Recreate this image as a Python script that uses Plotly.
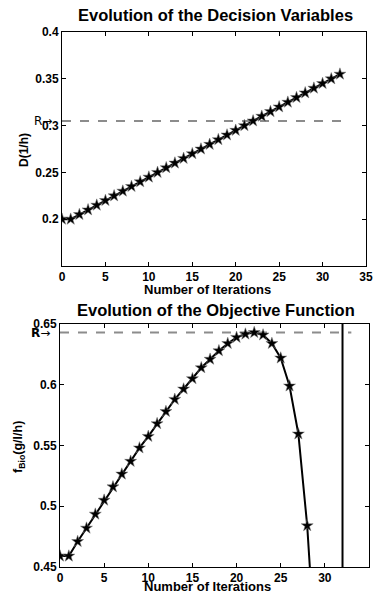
import plotly.graph_objects as go

# ---- data ----
iterations = list(range(0, 33))
D_values = [0.200, 0.200, 0.205, 0.210, 0.215, 0.220, 0.225, 0.230, 0.235, 0.240,
            0.245, 0.250, 0.255, 0.260, 0.265, 0.270, 0.275, 0.280, 0.285, 0.290,
            0.295, 0.300, 0.305, 0.310, 0.315, 0.320, 0.325, 0.330, 0.335, 0.340,
            0.345, 0.350, 0.355]
f_iterations = list(range(0, 30))
f_values = [0.459, 0.459, 0.471, 0.482, 0.4935, 0.505, 0.516, 0.5265, 0.537, 0.548,
            0.5575, 0.568, 0.578, 0.588, 0.5965, 0.605, 0.614, 0.621, 0.628, 0.634,
            0.639, 0.6417, 0.643, 0.641, 0.634, 0.622, 0.599, 0.5595, 0.484, 0.37]
R_D = 0.305
R_f = 0.643
R_x = [0, 33]
stop_iter = 32
x_ticks = [0, 5, 10, 15, 20, 25, 30, 35]
D_ticks = [0.2, 0.25, 0.3, 0.35, 0.4]
D_ticklabels = ["0.2", "0.25", "0.3", "0.35", "0.4"]
f_ticks = [0.45, 0.5, 0.55, 0.6, 0.65]
f_ticklabels = ["0.45", "0.5", "0.55", "0.6", "0.65"]

FONT = "Liberation Sans, Arial, sans-serif"
W, H = 375, 597

def px_x(p):
    return p / W

def px_y(p):
    return 1 - p / H

fig = go.Figure()

star = dict(symbol="star", size=9, color="black", line=dict(color="#777", width=0.5))

# top
fig.add_trace(go.Scatter(x=R_x, y=[R_D, R_D], mode="lines",
                         line=dict(color="#8c8c8c", width=2, dash="dash"),
                         xaxis="x", yaxis="y", showlegend=False, hoverinfo="skip"))
fig.add_trace(go.Scatter(x=iterations, y=D_values, mode="lines+markers",
                         line=dict(color="black", width=2), marker=star,
                         xaxis="x", yaxis="y", showlegend=False))
# bottom
fig.add_trace(go.Scatter(x=R_x, y=[R_f, R_f], mode="lines",
                         line=dict(color="#8c8c8c", width=2, dash="dash"),
                         xaxis="x2", yaxis="y2", showlegend=False, hoverinfo="skip"))
fig.add_trace(go.Scatter(x=[stop_iter, stop_iter], y=[f_ticks[0], f_ticks[-1]], mode="lines",
                         line=dict(color="black", width=2),
                         xaxis="x2", yaxis="y2", showlegend=False, hoverinfo="skip"))
fig.add_trace(go.Scatter(x=f_iterations, y=f_values, mode="lines+markers",
                         line=dict(color="black", width=2), marker=star,
                         xaxis="x2", yaxis="y2", showlegend=False))

axis_common = dict(showgrid=False, zeroline=False, showline=True, linecolor="black",
                   linewidth=1, mirror="ticks", ticks="inside", ticklen=4,
                   tickcolor="black", automargin=False,
                   tickfont=dict(family=FONT, size=12, color="black", weight="bold"))

fig.update_layout(
    width=W, height=H,
    margin=dict(l=0, r=0, t=0, b=0),
    paper_bgcolor="white", plot_bgcolor="white",
    xaxis=dict(domain=[px_x(62), px_x(366)], range=[0, 35], tickvals=x_ticks,
               anchor="y", **axis_common),
    yaxis=dict(domain=[px_y(266), px_y(32)], range=[0.15, 0.4], tickvals=D_ticks,
               ticktext=D_ticklabels, anchor="x", **axis_common),
    xaxis2=dict(domain=[px_x(60), px_x(369)], range=[0, 35], tickvals=x_ticks,
                anchor="y2", **axis_common),
    yaxis2=dict(domain=[px_y(567), px_y(324)], range=[0.45, 0.65], tickvals=f_ticks,
                ticktext=f_ticklabels, anchor="x2", **axis_common),
)

def ann(text, x, y, size, angle=0, xanchor="center"):
    fig.add_annotation(text=text, x=x, y=y, xref="paper", yref="paper",
                       showarrow=False, textangle=angle, xanchor=xanchor, yanchor="middle",
                       font=dict(family=FONT, size=size, color="black", weight="bold"))

ann("Evolution of the Decision Variables", px_x(215), px_y(15), 16.5)
ann("Number of Iterations", px_x(207), px_y(289), 13)
ann("D(1/h)", px_x(24), px_y(150), 12, angle=-90)
ann("Evolution of the Objective Function", px_x(216), px_y(310), 16.5)
ann("Number of Iterations", px_x(207), px_y(586), 13)
ann("f<sub>Bio</sub>(g/l/h)", px_x(19), px_y(447), 12.5, angle=-90)

# R arrows
ARROWFONT = "DejaVu Sans, sans-serif"
fig.add_annotation(text="R→", x=px_x(32), y=R_D, xref="paper", yref="y",
                   showarrow=False, xanchor="left", yanchor="middle",
                   font=dict(family=ARROWFONT, size=12, color="black"))
fig.add_annotation(text="<b>R</b>→", x=px_x(29), y=R_f, xref="paper", yref="y2",
                   showarrow=False, xanchor="left", yanchor="middle",
                   font=dict(family=ARROWFONT, size=12, color="black"))

fig.write_html("out.html", config={"displayModeBar": False},
               post_script="document.body.style.margin='0px';document.body.style.overflow='hidden';")
